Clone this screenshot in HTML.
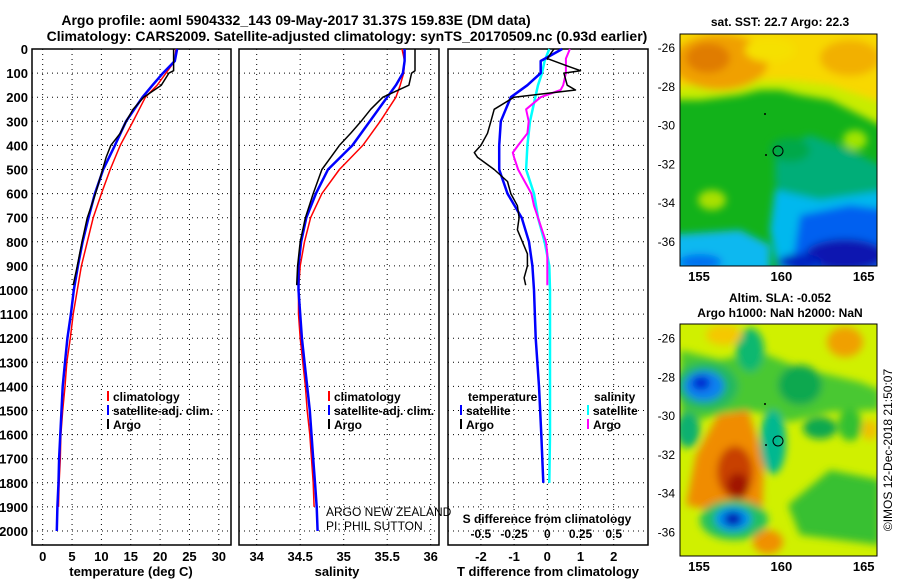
<!DOCTYPE html>
<html><head><meta charset="utf-8"><style>
body{margin:0;background:#fff}
svg{display:block;font-family:"Liberation Sans",sans-serif;font-weight:bold}
</style></head><body>
<svg id="c" width="900" height="580" viewBox="0 0 900 580" xmlns="http://www.w3.org/2000/svg">
<defs>
<filter id="bl" x="-20%" y="-20%" width="140%" height="140%"><feGaussianBlur stdDeviation="4"/></filter>
<filter id="bl2" x="-20%" y="-20%" width="140%" height="140%"><feGaussianBlur stdDeviation="4"/></filter>
<clipPath id="cm1"><rect x="680" y="34" width="197" height="232"/></clipPath>
<clipPath id="cm2"><rect x="680" y="324" width="197" height="232"/></clipPath>
</defs>
<text x="296" y="25" font-size="14" text-anchor="middle">Argo profile: aoml 5904332_143 09-May-2017 31.37S 159.83E (DM data)</text>
<text x="347" y="41" font-size="14" text-anchor="middle">Climatology: CARS2009. Satellite-adjusted climatology: synTS_20170509.nc (0.93d earlier)</text>
<g id="g"></g>

<g>
<text x="780" y="26" font-size="12" text-anchor="middle">sat. SST: 22.7 Argo: 22.3</text>
<g clip-path="url(#cm1)">
<rect x="680" y="34" width="197" height="232" fill="#12b21a"/>
<g filter="url(#bl)">
<path d="M670 25 H890 V130 L860 115 L830 100 L800 95 L780 90 L760 90 L740 95 L700 100 L670 100Z" fill="#c8ec00"/>
<path d="M670 25 H890 V105 L860 95 L830 85 L790 80 L760 80 L730 85 L700 85 L670 88Z" fill="#f8d800"/>
<ellipse cx="720" cy="62" rx="48" ry="28" fill="#f0a000"/>
<ellipse cx="708" cy="58" rx="22" ry="15" fill="#e07c00"/>
<ellipse cx="850" cy="58" rx="30" ry="18" fill="#f2b000"/>
<ellipse cx="770" cy="50" rx="25" ry="12" fill="#f5e000"/>
<path d="M775 150 L810 135 L850 150 L890 170 L890 230 L800 230 L780 210 L775 180Z" fill="#00ae78"/>
<path d="M775 190 L820 200 L890 190 L890 280 L780 280 L770 230Z" fill="#00b8ee"/>
<path d="M800 215 L850 205 L890 210 L890 280 L790 280Z" fill="#0060f0"/>
<ellipse cx="845" cy="255" rx="40" ry="16" fill="#0818b0"/>
<ellipse cx="800" cy="262" rx="22" ry="8" fill="#0020c0"/>
<path d="M670 235 L740 230 L770 245 L770 280 L670 280Z" fill="#10b8f0"/>
<ellipse cx="700" cy="262" rx="22" ry="8" fill="#0070f0"/>
<ellipse cx="712" cy="200" rx="14" ry="10" fill="#a8e000"/>
<ellipse cx="855" cy="140" rx="12" ry="10" fill="#a0e400"/>
<ellipse cx="790" cy="150" rx="20" ry="12" fill="#00a84a"/>
</g>
</g>
<rect x="680" y="34" width="197" height="232" fill="none" stroke="#000"/>
<circle cx="778" cy="151" r="5" fill="none" stroke="#000"/>
<circle cx="765" cy="114" r="1" fill="#000"/><circle cx="766" cy="155" r="1" fill="#000"/>
</g>

<g>
<text x="780" y="302" font-size="12" text-anchor="middle">Altim. SLA: -0.052</text>
<text x="780" y="317" font-size="12" text-anchor="middle">Argo h1000: NaN h2000: NaN</text>
<g clip-path="url(#cm2)">
<rect x="680" y="324" width="197" height="232" fill="#d0f000"/>
<g filter="url(#bl2)">
<path d="M680 350 L720 360 L760 352 L800 368 L860 382 L880 390 L880 410 L830 412 L790 422 L760 412 L730 412 L690 422 L680 412Z" fill="#48c830"/>
<ellipse cx="750" cy="350" rx="14" ry="22" fill="#10b870"/>
<ellipse cx="706" cy="386" rx="32" ry="24" fill="#20b860"/>
<ellipse cx="704" cy="386" rx="20" ry="15" fill="#1080f0"/>
<ellipse cx="701" cy="383" rx="9" ry="7" fill="#0020d0"/>
<ellipse cx="800" cy="385" rx="22" ry="20" fill="#10a850"/>
<ellipse cx="688" cy="430" rx="12" ry="18" fill="#10b070"/>
<path d="M686 505 L696 455 L718 415 L748 410 L764 460 L762 512 L720 512Z" fill="#f08c00"/>
<ellipse cx="735" cy="472" rx="18" ry="26" fill="#c84000"/>
<ellipse cx="738" cy="486" rx="11" ry="13" fill="#a01800"/>
<ellipse cx="773" cy="442" rx="13" ry="32" fill="#00b890"/>
<ellipse cx="820" cy="428" rx="17" ry="11" fill="#10a850"/>
<ellipse cx="850" cy="425" rx="12" ry="16" fill="#30c030"/>
<path d="M788 505 L830 470 L880 480 L880 545 L840 540 L800 535Z" fill="#38c030"/>
<ellipse cx="734" cy="520" rx="34" ry="20" fill="#20c060"/>
<ellipse cx="733" cy="519" rx="18" ry="12" fill="#0090f0"/>
<ellipse cx="733" cy="519" rx="9" ry="7" fill="#0010b0"/>
<ellipse cx="768" cy="542" rx="15" ry="12" fill="#f09000"/>
<ellipse cx="845" cy="342" rx="18" ry="15" fill="#f0a000"/>
<ellipse cx="724" cy="335" rx="18" ry="10" fill="#f5c800"/>
<ellipse cx="870" cy="430" rx="8" ry="10" fill="#f0c000"/>
</g>
</g>
<rect x="680" y="324" width="197" height="232" fill="none" stroke="#000"/>
<circle cx="778" cy="441" r="5" fill="none" stroke="#000"/>
<circle cx="765" cy="404" r="1" fill="#000"/><circle cx="766" cy="445" r="1" fill="#000"/>
<text transform="translate(892,450) rotate(-90)" font-size="12" font-weight="normal" text-anchor="middle">©IMOS 12-Dec-2018 21:50:07</text>
</g>
</svg>
<script>
const climDepths=[0,50,100,150,200,300,400,500,600,700,800,900,1000,1100,1200,1300,1400,1500,1600,1700,1800,1900];
const satDepths=[0,50,100,150,200,300,400,500,600,700,800,900,1000,1100,1200,1300,1400,1500,1600,1700,1800,1900,2000];
const argoDepths=[0,50,90,100,150,200,250,300,350,400,450,500,600,700,800,900,980];
const climTemp=[22.7,22.5,21,19.5,17.5,15.4,13.2,11.5,10,8.6,7.6,6.6,5.9,5.2,4.7,4.1,3.8,3.4,3.1,3.0,2.8,2.7];
const satTemp=[22.9,22.5,20.5,18.7,17.0,14.2,12.3,10.3,8.9,7.8,6.8,6.0,5.3,4.8,4.2,3.8,3.4,3.2,3.0,2.8,2.7,2.5,2.4];
const argoTemp=[22.3,22.3,22.3,21.5,20.2,17.2,15.4,14.2,13.2,11.6,10.8,10.2,9.0,7.6,6.7,5.9,5.2];
const climSal=[35.67,35.7,35.69,35.65,35.6,35.42,35.22,34.95,34.75,34.62,34.55,34.5,34.48,34.48,34.5,34.53,34.56,34.58,34.61,34.63,34.65,34.66];
const satSal=[35.7,35.7,35.68,35.6,35.5,35.3,35.1,34.82,34.68,34.57,34.51,34.48,34.48,34.5,34.52,34.55,34.58,34.61,34.63,34.65,34.67,34.69,34.7];
const argoSal=[35.82,35.82,35.82,35.78,35.75,35.45,35.31,35.2,35.08,34.95,34.85,34.75,34.65,34.56,34.5,34.47,34.46];
const diffDepths=[0,50,100,150,200,300,400,500,600,700,800,900,1000,1200,1400,1600,1800];
const satTDiff=[0.45,-0.2,-0.2,-0.6,-1.1,-1.4,-1.45,-1.45,-1.2,-0.77,-0.55,-0.45,-0.4,-0.35,-0.25,-0.18,-0.12];
const satSDiff=[0.015,-0.02,-0.04,-0.07,-0.09,-0.13,-0.15,-0.16,-0.1,-0.07,-0.02,0.015,0.02,0.02,0.02,0.02,0.015];
const argoDiffDepths=[0,40,70,90,100,150,170,200,250,300,350,400,430,450,500,550,600,650,700,750,800,850,900,950,980];
const argoTDiff=[0.2,0.0,0.6,1.0,0.5,0.6,0.85,-1.0,-1.6,-1.7,-1.8,-2.0,-2.2,-2.1,-1.6,-1.2,-1.1,-0.9,-0.85,-0.9,-0.75,-0.6,-0.6,-0.7,-0.65];
const argoSDiff=[0.17,0.14,0.14,0.14,0.14,0.12,0.1,-0.05,-0.16,-0.14,-0.15,-0.22,-0.26,-0.25,-0.22,-0.17,-0.12,-0.1,-0.07,-0.04,-0.01,0.0,0.0,0.0,0.0];
const depthTicks=[0,100,200,300,400,500,600,700,800,900,1000,1100,1200,1300,1400,1500,1600,1700,1800,1900,2000];
const tempTicks=[0,5,10,15,20,25,30];
const salTicks=[34,34.5,35,35.5,36];
const tDiffTicks=[-2,-1,0,1,2];
const sDiffTicks=[-0.5,-0.25,0,0.25,0.5];

const NS='http://www.w3.org/2000/svg';
const G=document.getElementById('g');
const TOP=49,BOT=545;
const yD=d=>49+d*0.241;
const xT=t=>42.7+t*5.87;
const xS=s=>256.7+(s-34)*87;
const xDT=t=>547.3+t*33.2;
const xDS=s=>547.3+s*132.8;
function el(tag,a,txt){const e=document.createElementNS(NS,tag);for(const k in a)e.setAttribute(k,a[k]);if(txt!==undefined)e.textContent=txt;G.appendChild(e);return e;}
function panel(x0,x1,xs,fx,name){
  for(const v of xs){const x=fx(v);
    const l=el('line',{x1:x,x2:x,y1:TOP,y2:BOT,stroke:'#000','stroke-dasharray':'1 4','stroke-width':1});
    
    }
  for(const d of depthTicks){const y=yD(d);
    const l=el('line',{x1:x0,x2:x1,y1:y,y2:y,stroke:'#000','stroke-dasharray':'1 4','stroke-width':1});
    
    }
  const r=el('rect',{x:x0,y:TOP,width:x1-x0,height:BOT-TOP,fill:'none',stroke:'#000','stroke-width':1.5});
  
  
}
function line(ds,vs,fx,color,w,name){
  const p=ds.map((d,i)=>fx(vs[i]).toFixed(1)+','+yD(d).toFixed(1)).join(' ');
  const e=el('polyline',{points:p,fill:'none',stroke:color,'stroke-width':w,'stroke-linejoin':'round'});
  
  
}
function txt(x,y,s,anchor,size,name,weight){
  const e=el('text',{x:x,y:y,'font-size':size||12,'text-anchor':anchor||'middle'},s);
  if(weight)e.setAttribute('font-weight',weight);
  
  
  return e;
}
function leg(x,y,color,label,name){
  const m=el('line',{x1:x,x2:x,y1:y-10,y2:y,stroke:color,'stroke-width':2});
  
  
  txt(x+5,y,label,'start',12,name);
}
panel(32,231,tempTicks,xT,'temperature-panel');
panel(239,439,salTicks,xS,'salinity-panel');
panel(448,648,tDiffTicks,xDT,'difference-panel');
for(const d of depthTicks)txt(28,yD(d)+5,String(d),'end',13,'depth-tick-label');
for(const t of tempTicks)txt(xT(t),561,String(t),'middle',13,'temperature-tick-label');
for(const s of salTicks)txt(xS(s),561,String(s),'middle',13,'salinity-tick-label');
for(const t of tDiffTicks)txt(xDT(t),561,String(t),'middle',13,'t-diff-tick-label');
for(const s of sDiffTicks)txt(xDS(s),538,String(s),'middle',12,'s-diff-tick-label');
txt(131,576,'temperature (deg C)','middle',13,'temperature-axis-title');
txt(337,576,'salinity','middle',13,'salinity-axis-title');
txt(548,576,'T difference from climatology','middle',13,'t-diff-axis-title');
txt(547,523,'S difference from climatology','middle',12,'s-diff-axis-title');
line(climDepths,climTemp,xT,'#f00',1.5,'temperature-climatology-line');
line(satDepths,satTemp,xT,'#00f',2.5,'temperature-satellite-line');
line(argoDepths,argoTemp,xT,'#000',1.5,'temperature-argo-line');
line(climDepths,climSal,xS,'#f00',1.5,'salinity-climatology-line');
line(satDepths,satSal,xS,'#00f',2.5,'salinity-satellite-line');
line(argoDepths,argoSal,xS,'#000',1.5,'salinity-argo-line');
line(diffDepths,satSDiff,xDS,'#0ff',2.5,'s-diff-satellite-line');
line(argoDiffDepths,argoSDiff,xDS,'#f0f',2,'s-diff-argo-line');
line(diffDepths,satTDiff,xDT,'#00f',2.5,'t-diff-satellite-line');
line(argoDiffDepths,argoTDiff,xDT,'#000',1.5,'t-diff-argo-line');
leg(108,401,'#f00','climatology','legend-temp-climatology');
leg(108,415,'#00f','satellite-adj. clim.','legend-temp-satellite');
leg(108,429,'#000','Argo','legend-temp-argo');
leg(329,401,'#f00','climatology','legend-sal-climatology');
leg(329,415,'#00f','satellite-adj. clim.','legend-sal-satellite');
leg(329,429,'#000','Argo','legend-sal-argo');
txt(468,401,'temperature','start',12,'legend-diff-temperature-header');
leg(461,415,'#00f','satellite','legend-diff-temp-satellite');
leg(461,429,'#000','Argo','legend-diff-temp-argo');
txt(594,401,'salinity','start',12,'legend-diff-salinity-header');
leg(588,415,'#0ff','satellite','legend-diff-sal-satellite');
leg(588,429,'#f0f','Argo','legend-diff-sal-argo');
txt(326,516,'ARGO NEW ZEALAND','start',12,'institution-label','normal');
txt(326,530,'PI: PHIL SUTTON','start',12,'pi-label','normal');
const lonTicks=[155,160,165];
const latTicks=[-26,-28,-30,-32,-34,-36];
const mx=l=>699+(l-155)*16.47;
function mapAxes(yTop,y0,nm){
  for(const l of lonTicks){
    txt(mx(l),yTop+247,String(l),'middle',13,nm+'-lon-label');
    const t1=el('line',{x1:mx(l),x2:mx(l),y1:yTop,y2:yTop+4,stroke:'#000'});
    
    
  }
  for(const la of latTicks){const y=y0+(-26-la)*19.4;
    txt(675,y+5,String(la),'end',12,nm+'-lat-label','normal');
    const t2=el('line',{x1:873,x2:877,y1:y,y2:y,stroke:'#000'});
    
    
  }
}
mapAxes(34,47,'sst-map');
mapAxes(324,337.5,'sla-map');
</script>
</body></html>
